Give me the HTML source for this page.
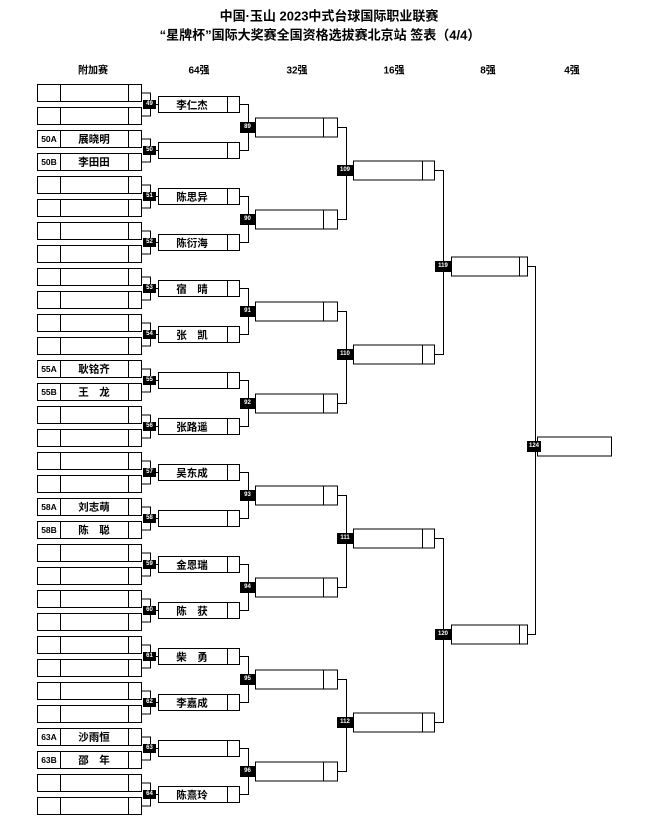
<!DOCTYPE html>
<html><head><meta charset="utf-8"><style>
html,body{margin:0;padding:0;background:#fff;}
body{width:648px;height:828px;position:relative;overflow:hidden;font-family:"Liberation Sans","Noto Sans CJK SC",sans-serif;color:#000;}
.t{position:absolute;white-space:nowrap;transform:translate(-50%,-50%);}
.ti{font-size:13px;font-weight:bold;}
.h{font-size:10px;font-weight:bold;}
.n{font-size:10.5px;font-weight:bold;}
.c{font-size:8.5px;font-weight:bold;}
.lb{position:absolute;background:#000;color:#fff;font-size:6px;font-weight:bold;text-align:center;font-family:"Liberation Sans",sans-serif;}
svg{position:absolute;left:0;top:0;}
</style></head><body>
<svg width="648" height="828" id="s" fill="none" stroke="#000" stroke-width="1"></svg>
<script>
var s=document.getElementById('s'),h='';
function R(x1,y,x2,hh,d){h+='<rect x="'+x1+'" y="'+y+'" width="'+(x2-x1)+'" height="'+hh+'"/>';d.forEach(function(x){h+='<line x1="'+x+'" y1="'+y+'" x2="'+x+'" y2="'+(y+hh)+'"/>';});}
function P(d){h+='<path d="'+d+'"/>';}
for(var i=0;i<32;i++)R(37.5,84.5+23*i,141.5,17,[60.5,128.5]);
for(var k=0;k<16;k++){var y1=93+46*k,y2=y1+23;P('M141.5 '+y1+'H150.5V'+y2+'H141.5M150.5 '+(104.5+46*k)+'H158');R(158.5,96.5+46*k,239.5,16,[227.5]);}
for(var j=0;j<8;j++){var a=104.5+92*j,b=a+46;P('M239.5 '+a+'H248.5V'+b+'H239.5M248.5 '+(127.5+92*j)+'H255');R(255.5,118+92*j,337.5,19,[323.5]);}
for(var m=0;m<4;m++){var a=127.5+184*m,b=a+92;P('M337.5 '+a+'H346.5V'+b+'H337.5M346.5 '+(170.5+184*m)+'H353');R(353.5,161+184*m,434.5,19,[422.5]);}
for(var n=0;n<2;n++){var a=170.5+368*n,b=a+184;P('M434.5 '+a+'H443.5V'+b+'H434.5M443.5 '+(266.5+368*n)+'H451');R(451.5,257+368*n,527.5,19,[519.5]);}
P('M527.5 266.5H535.5V634.5H527.5M535.5 446.5H537');R(537.5,437,611.5,19,[]);
s.innerHTML=h;
</script>
<div class="t ti" style="left:329px;top:15px">中国·玉山 2023中式台球国际职业联赛</div>
<div class="t ti" style="left:320px;top:34px">“星牌杯”国际大奖赛全国资格选拔赛北京站 签表（4/4）</div>
<div class="t h" style="left:93px;top:69px">附加赛</div>
<div class="t h" style="left:199px;top:69px">64强</div>
<div class="t h" style="left:297px;top:69px">32强</div>
<div class="t h" style="left:394px;top:69px">16强</div>
<div class="t h" style="left:488px;top:69px">8强</div>
<div class="t h" style="left:572px;top:69px">4强</div>

<div class="t c" style="left:49px;top:139px">50A</div><div class="t n" style="left:94px;top:139px">展晓明</div>
<div class="t c" style="left:49px;top:162px">50B</div><div class="t n" style="left:94px;top:162px">李田田</div>
<div class="t c" style="left:49px;top:369px">55A</div><div class="t n" style="left:94px;top:369px">耿铭齐</div>
<div class="t c" style="left:49px;top:392px">55B</div><div class="t n" style="left:94px;top:392px">王　龙</div>
<div class="t c" style="left:49px;top:507px">58A</div><div class="t n" style="left:94px;top:507px">刘志萌</div>
<div class="t c" style="left:49px;top:530px">58B</div><div class="t n" style="left:94px;top:530px">陈　聪</div>
<div class="t c" style="left:49px;top:737px">63A</div><div class="t n" style="left:94px;top:737px">沙雨恒</div>
<div class="t c" style="left:49px;top:760px">63B</div><div class="t n" style="left:94px;top:760px">邵　年</div>

<div class="t n" style="left:192px;top:105px">李仁杰</div>
<div class="t n" style="left:192px;top:197px">陈思异</div>
<div class="t n" style="left:192px;top:243px">陈衍海</div>
<div class="t n" style="left:192px;top:289px">宿　晴</div>
<div class="t n" style="left:192px;top:335px">张　凯</div>
<div class="t n" style="left:192px;top:427px">张路遥</div>
<div class="t n" style="left:192px;top:473px">吴东成</div>
<div class="t n" style="left:192px;top:565px">金恩瑞</div>
<div class="t n" style="left:192px;top:611px">陈　获</div>
<div class="t n" style="left:192px;top:657px">柴　勇</div>
<div class="t n" style="left:192px;top:703px">李嘉成</div>
<div class="t n" style="left:192px;top:795px">陈熹玲</div>

<div class="lb" style="left:143px;top:100px;width:13px;height:9px;line-height:9px">49</div>
<div class="lb" style="left:143px;top:146px;width:13px;height:9px;line-height:9px">50</div>
<div class="lb" style="left:143px;top:192px;width:13px;height:9px;line-height:9px">51</div>
<div class="lb" style="left:143px;top:238px;width:13px;height:9px;line-height:9px">52</div>
<div class="lb" style="left:143px;top:284px;width:13px;height:9px;line-height:9px">53</div>
<div class="lb" style="left:143px;top:330px;width:13px;height:9px;line-height:9px">54</div>
<div class="lb" style="left:143px;top:376px;width:13px;height:9px;line-height:9px">55</div>
<div class="lb" style="left:143px;top:422px;width:13px;height:9px;line-height:9px">56</div>
<div class="lb" style="left:143px;top:468px;width:13px;height:9px;line-height:9px">57</div>
<div class="lb" style="left:143px;top:514px;width:13px;height:9px;line-height:9px">58</div>
<div class="lb" style="left:143px;top:560px;width:13px;height:9px;line-height:9px">59</div>
<div class="lb" style="left:143px;top:606px;width:13px;height:9px;line-height:9px">60</div>
<div class="lb" style="left:143px;top:652px;width:13px;height:9px;line-height:9px">61</div>
<div class="lb" style="left:143px;top:698px;width:13px;height:9px;line-height:9px">62</div>
<div class="lb" style="left:143px;top:744px;width:13px;height:9px;line-height:9px">63</div>
<div class="lb" style="left:143px;top:790px;width:13px;height:9px;line-height:9px">64</div>

<div class="lb" style="left:240px;top:122px;width:15px;height:11px;line-height:11px">89</div>
<div class="lb" style="left:240px;top:214px;width:15px;height:11px;line-height:11px">90</div>
<div class="lb" style="left:240px;top:306px;width:15px;height:11px;line-height:11px">91</div>
<div class="lb" style="left:240px;top:398px;width:15px;height:11px;line-height:11px">92</div>
<div class="lb" style="left:240px;top:490px;width:15px;height:11px;line-height:11px">93</div>
<div class="lb" style="left:240px;top:582px;width:15px;height:11px;line-height:11px">94</div>
<div class="lb" style="left:240px;top:674px;width:15px;height:11px;line-height:11px">95</div>
<div class="lb" style="left:240px;top:766px;width:15px;height:11px;line-height:11px">96</div>

<div class="lb" style="left:337px;top:165px;width:16px;height:11px;line-height:11px">109</div>
<div class="lb" style="left:337px;top:349px;width:16px;height:11px;line-height:11px">110</div>
<div class="lb" style="left:337px;top:533px;width:16px;height:11px;line-height:11px">111</div>
<div class="lb" style="left:337px;top:717px;width:16px;height:11px;line-height:11px">112</div>

<div class="lb" style="left:435px;top:261px;width:16px;height:11px;line-height:11px">119</div>
<div class="lb" style="left:435px;top:629px;width:16px;height:11px;line-height:11px">120</div>
<div class="lb" style="left:527px;top:441px;width:14px;height:11px;line-height:11px">124</div>
</body></html>
